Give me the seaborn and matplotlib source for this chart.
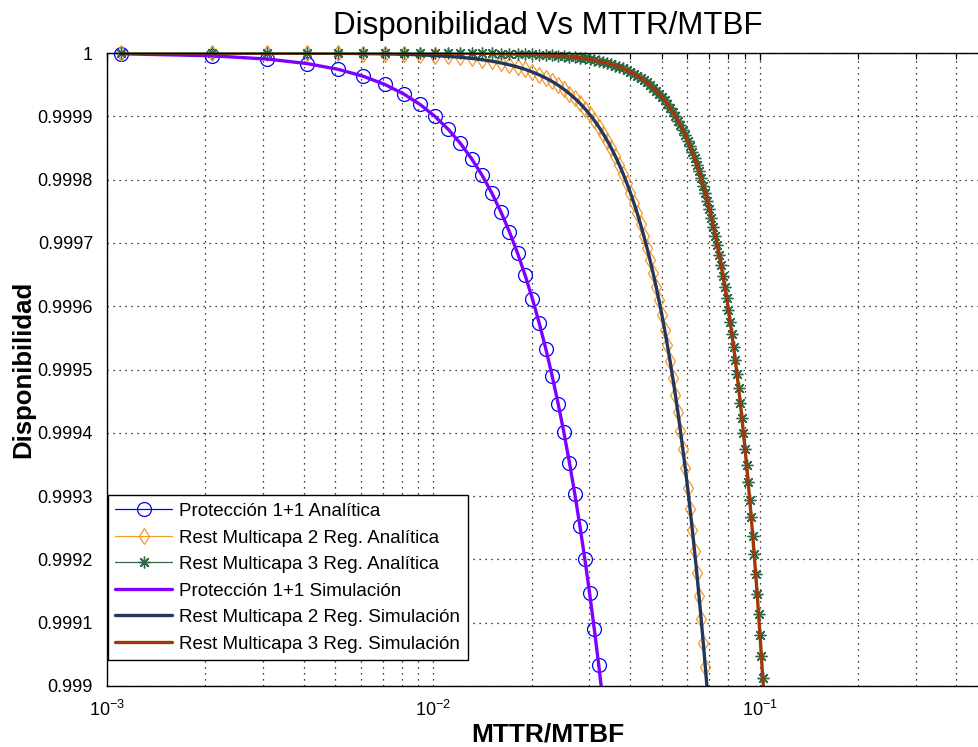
import matplotlib
matplotlib.use("Agg")
import matplotlib.pyplot as plt
import matplotlib.ticker as mticker
from matplotlib.transforms import Bbox, TransformedBbox
import seaborn as sns
import pandas as pd

# ---------------- data ----------------
mttr_mtbf = [0.0011, 0.0021, 0.0031, 0.0041, 0.0051, 0.0061, 0.0071, 0.0081, 0.0091, 0.0101,
             0.0111, 0.0121, 0.0131, 0.0141, 0.0151, 0.0161, 0.0171, 0.0181, 0.0191, 0.0201,
             0.0211, 0.0221, 0.0231, 0.0241, 0.0251, 0.0261, 0.0271, 0.0281, 0.0291, 0.0301,
             0.0311, 0.0321, 0.0331, 0.0341, 0.0351, 0.0361, 0.0371, 0.0381, 0.0391, 0.0401,
             0.0411, 0.0421, 0.0431, 0.0441, 0.0451, 0.0461, 0.0471, 0.0481, 0.0491, 0.0501,
             0.0511, 0.0521, 0.0531, 0.0541, 0.0551, 0.0561, 0.0571, 0.0581, 0.0591, 0.0601,
             0.0611, 0.0621, 0.0631, 0.0641, 0.0651, 0.0661, 0.0671, 0.0681, 0.0691, 0.0701,
             0.0711, 0.0721, 0.0731, 0.0741, 0.0751, 0.0761, 0.0771, 0.0781, 0.0791, 0.0801,
             0.0811, 0.0821, 0.0831, 0.0841, 0.0851, 0.0861, 0.0871, 0.0881, 0.0891, 0.0901,
             0.0911, 0.0921, 0.0931, 0.0941, 0.0951, 0.0961, 0.0971, 0.0981, 0.0991, 0.1001,
             0.1011, 0.1021, 0.1031, 0.1041]

prot_analitica = [0.9999988, 0.9999956, 0.9999904, 0.9999833, 0.9999743, 0.9999632, 0.9999503,
                  0.9999354, 0.9999187, 0.9999000, 0.9998795, 0.9998571, 0.9998328, 0.9998067,
                  0.9997787, 0.9997489, 0.9997173, 0.9996839, 0.9996487, 0.9996118, 0.9995730,
                  0.9995325, 0.9994902, 0.9994462, 0.9994005, 0.9993530, 0.9993038, 0.9992530,
                  0.9992004, 0.9991462, 0.9990903, 0.9990327, 0.9989735]

reg2_analitica = [1.0, 0.99999996, 0.99999988, 0.99999973, 0.99999948, 0.99999911, 0.99999861,
                  0.99999794, 0.99999709, 0.99999604, 0.99999477, 0.99999325, 0.99999146, 0.9999894,
                  0.99998703, 0.99998434, 0.99998131, 0.99997792, 0.99997416, 0.99997000, 0.99996543,
                  0.99996044, 0.99995500, 0.99994910, 0.99994272, 0.99993585, 0.99992847, 0.99992056,
                  0.99991212, 0.99990312, 0.99989355, 0.99988340, 0.99987266, 0.99986130, 0.99984932,
                  0.99983670, 0.99982344, 0.99980951, 0.99979490, 0.99977961, 0.99976362, 0.99974692,
                  0.99972949, 0.99971133, 0.99969242, 0.99967275, 0.99965233, 0.99963112, 0.99960912,
                  0.99958633, 0.99956273, 0.99953831, 0.99951307, 0.99948698, 0.99946005, 0.99943226,
                  0.99940363, 0.99937410, 0.99934371, 0.99931245, 0.99928027, 0.99924720, 0.99921320,
                  0.99917828, 0.99914245, 0.99910567, 0.99906795, 0.99902931, 0.99898970, 0.99894912]

reg3_analitica = [1.0, 1.0, 1.0, 1.0, 0.99999999, 0.99999998, 0.99999997, 0.99999994, 0.99999991,
                  0.99999987, 0.99999981, 0.99999973, 0.99999963, 0.99999950, 0.99999934, 0.99999916,
                  0.99999893, 0.99999866, 0.99999835, 0.99999798, 0.99999756, 0.99999707, 0.99999652,
                  0.99999589, 0.99999518, 0.99999439, 0.99999351, 0.99999252, 0.99999143, 0.99999023,
                  0.99998891, 0.99998746, 0.99998588, 0.99998416, 0.99998228, 0.99998025, 0.99997806,
                  0.99997569, 0.99997314, 0.99997039, 0.99996745, 0.99996431, 0.99996094, 0.99995735,
                  0.99995353, 0.99994946, 0.99994514, 0.99994056, 0.99993571, 0.99993057, 0.99992515,
                  0.99991942, 0.99991338, 0.99990702, 0.99990033, 0.99989330, 0.99988592, 0.99987818,
                  0.99987007, 0.99986157, 0.99985268, 0.99984339, 0.99983368, 0.99982354, 0.99981298,
                  0.99980196, 0.99979049, 0.99977854, 0.99976612, 0.99975321, 0.99973979, 0.99972586,
                  0.99971141, 0.99969642, 0.99968088, 0.99966479, 0.99964812, 0.99963088, 0.99961304,
                  0.99959459, 0.99957553, 0.99955585, 0.99953552, 0.99951454, 0.99949290, 0.99947058,
                  0.99944758, 0.99942388, 0.99939947, 0.99937434, 0.99934848, 0.99932187, 0.99929451,
                  0.99926637, 0.99923746, 0.99920776, 0.99917725, 0.99914592, 0.99911377, 0.99908078,
                  0.99904693, 0.99901223, 0.99897664, 0.99894017]

prot_simulacion = list(prot_analitica)
reg2_simulacion = list(reg2_analitica)
reg3_simulacion = list(reg3_analitica)

series_labels = ["Protección 1+1 Analítica", "Rest Multicapa 2 Reg. Analítica",
                 "Rest Multicapa 3 Reg. Analítica", "Protección 1+1 Simulación",
                 "Rest Multicapa 2 Reg. Simulación", "Rest Multicapa 3 Reg. Simulación"]

ytick_values = [0.999, 0.9991, 0.9992, 0.9993, 0.9994, 0.9995, 0.9996, 0.9997, 0.9998, 0.9999, 1.0]
ytick_labels = ["0.999", "0.9991", "0.9992", "0.9993", "0.9994", "0.9995",
                "0.9996", "0.9997", "0.9998", "0.9999", "1"]

# ---------------- style ----------------
sns.set_theme(style="white")
plt.rcParams["font.family"] = ["Liberation Sans", "DejaVu Sans"]
plt.rcParams["mathtext.fontset"] = "custom"
plt.rcParams["mathtext.rm"] = "Liberation Sans"
plt.rcParams["mathtext.it"] = "Liberation Sans"
plt.rcParams["mathtext.default"] = "regular"
for k in ["text.color", "axes.labelcolor", "xtick.color", "ytick.color", "axes.edgecolor"]:
    plt.rcParams[k] = "black"

fig = plt.figure(figsize=(9.79, 7.47), dpi=100)
ax = fig.add_axes([107 / 979, 61 / 747, 881 / 979, 633 / 747])

def frame(y):
    n = len(y)
    return pd.DataFrame({"x": mttr_mtbf[:n], "y": y})

ana_specs = [
    (prot_analitica, "#0000FF", "o", dict(markersize=10, markerfacecolor="none",
                                           markeredgecolor="#0000FF", markeredgewidth=0.9)),
    (reg2_analitica, "#F39A2B", "d", dict(markersize=8.5, markerfacecolor="none",
                                           markeredgecolor="#F39A2B", markeredgewidth=0.9)),
    (reg3_analitica, "#2E6B4A", (8, 2, 0), dict(markersize=8.5, markerfacecolor="#2E6B4A",
                                                 markeredgecolor="#2E6B4A", markeredgewidth=1.0)),
]
sim_specs = [
    (prot_simulacion, "#7F00FF"),
    (reg2_simulacion, "#22375F"),
    (reg3_simulacion, "#A0380A"),
]

for (y, c, m, kw), lab in zip(ana_specs, series_labels[:3]):
    sns.lineplot(data=frame(y), x="x", y="y", ax=ax, color=c, marker=m, linewidth=0.9,
                 label=lab, estimator=None, sort=False, **kw)

for (y, c), lab in zip(sim_specs, series_labels[3:]):
    sns.lineplot(data=frame(y), x="x", y="y", ax=ax, color=c, linewidth=2.4,
                 label=lab, estimator=None, sort=False)

# let markers at the very top show fully (like the reference)
clip = TransformedBbox(Bbox([[0, 0], [1, 1.03]]), ax.transAxes)
for ln in ax.lines[:3]:
    ln.set_clip_box(clip)

ax.set_xscale("log")
ax.set_xlim(1e-3, 0.5)
ax.set_ylim(0.999, 1.0)

ax.yaxis.set_major_locator(mticker.FixedLocator(ytick_values))
ax.yaxis.set_major_formatter(mticker.FixedFormatter(ytick_labels))
ax.xaxis.set_major_locator(mticker.LogLocator(base=10, numticks=10))
ax.xaxis.set_minor_locator(mticker.LogLocator(base=10, subs=range(2, 10), numticks=20))
ax.xaxis.set_minor_formatter(mticker.NullFormatter())

grid_ls = (0, (1, 3.8))
ax.grid(True, which="major", axis="both", color="black", linestyle=grid_ls, linewidth=0.9)
ax.grid(True, which="minor", axis="x", color="black", linestyle=grid_ls, linewidth=0.9)
ax.set_axisbelow(True)

ax.tick_params(which="both", direction="in", top=True, right=True, color="black")
ax.tick_params(which="major", length=5, width=0.9, labelsize=13)
ax.tick_params(axis="y", which="major", pad=10)
ax.tick_params(axis="x", which="major", pad=10)
ax.tick_params(which="minor", length=4, width=0.8)
for s in ax.spines.values():
    s.set_color("black")
    s.set_linewidth(1.0)

ax.set_title("Disponibilidad Vs MTTR/MTBF", fontsize=22.5, pad=14)
ax.set_xlabel("MTTR/MTBF", fontsize=19, fontweight="bold", labelpad=2)
ax.set_ylabel("Disponibilidad", fontsize=18.5, fontweight="bold", labelpad=2)

leg = ax.legend(loc="lower left", bbox_to_anchor=(0.001, 0.041), borderaxespad=0,
                fontsize=13.5, frameon=True, fancybox=False, framealpha=1,
                edgecolor="black", handlelength=3.0, labelspacing=0.5,
                borderpad=0.4, handletextpad=0.4)
leg.get_frame().set_linewidth(1.0)

fig.savefig("out.png", dpi=100)
